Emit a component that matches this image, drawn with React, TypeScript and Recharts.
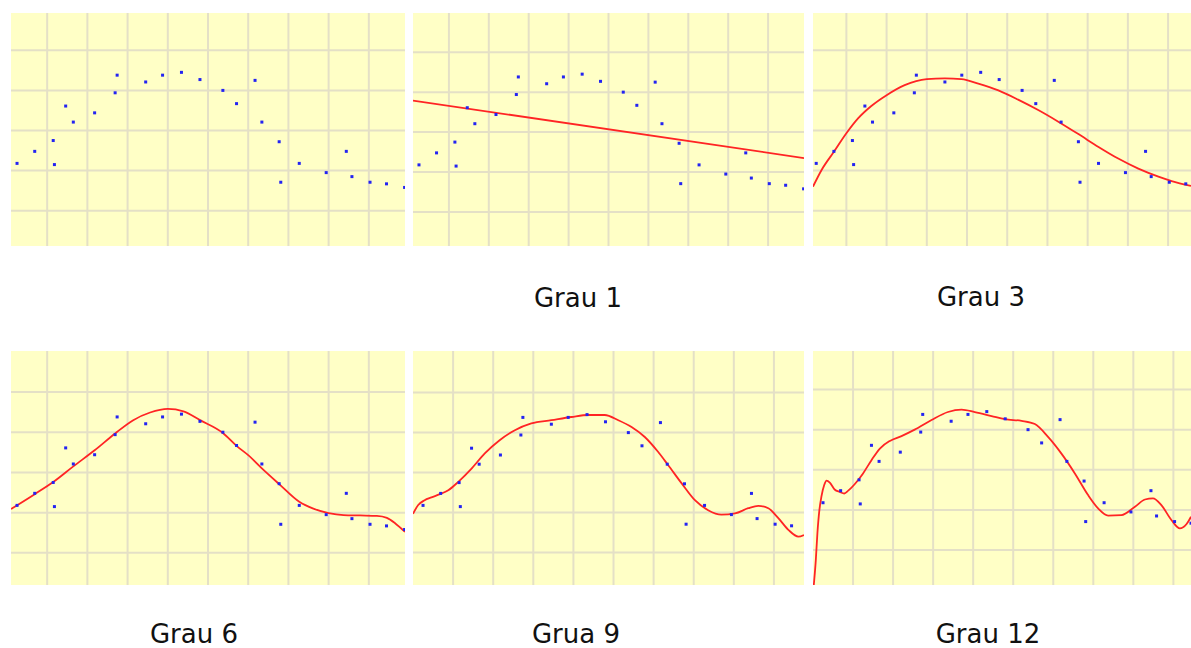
import React from 'react';
import { ComposedChart, XAxis, YAxis, CartesianGrid, Scatter, Line } from 'recharts';

// sample points, identical in every panel
const pointX = [0.25, 0.69, 1.15, 1.18, 1.46, 1.65, 2.18, 2.69, 2.74, 3.45, 3.87, 4.34, 4.80,
  5.37, 5.71, 6.17, 6.34, 6.77, 6.81, 7.27, 7.94, 8.44, 8.58, 9.03, 9.44, 9.89];
const pointY = [2.18, 2.48, 2.75, 2.15, 3.61, 3.21, 3.44, 3.94, 4.38, 4.21, 4.38, 4.45, 4.27,
  4.00, 3.67, 4.25, 3.21, 2.72, 1.71, 2.18, 1.95, 2.48, 1.85, 1.71, 1.67, 1.58];

// fitted curves as [x, y]
const grau1 = [[0.10, 3.79], [9.90, 2.35]];
const grau3 = [[0.17, 1.60], [0.38, 2.01], [0.69, 2.47], [1.0, 2.93], [1.29, 3.30], [1.62, 3.61],
  [2.0, 3.88], [2.45, 4.13], [3.0, 4.28], [3.45, 4.30], [3.86, 4.28], [4.28, 4.17], [4.78, 4.00],
  [5.27, 3.77], [5.77, 3.51], [6.27, 3.22], [6.77, 2.91], [7.27, 2.59], [7.76, 2.30], [8.26, 2.05],
  [8.76, 1.85], [9.09, 1.74], [9.57, 1.62]];
const grau6 = [[0.10, 2.09], [0.69, 2.46], [1.15, 2.76], [1.65, 3.15], [2.18, 3.55], [2.69, 3.97],
  [3.14, 4.30], [3.56, 4.49], [4.0, 4.58], [4.39, 4.52], [4.80, 4.30], [5.37, 3.98], [5.71, 3.66],
  [6.0, 3.43], [6.34, 3.10], [6.77, 2.71], [7.27, 2.27], [7.62, 2.10], [8.0, 1.99], [8.37, 1.94],
  [8.78, 1.93], [9.20, 1.92], [9.45, 1.87], [9.66, 1.73], [9.90, 1.52]];
const grau9 = [[0.0, 1.97], [0.13, 2.19], [0.29, 2.31], [0.46, 2.38], [0.67, 2.46], [0.88, 2.56],
  [1.13, 2.77], [1.46, 3.10], [1.79, 3.48], [2.16, 3.81], [2.54, 4.06], [2.95, 4.23], [3.45, 4.31],
  [3.95, 4.39], [4.37, 4.44], [4.78, 4.44], [5.12, 4.31], [5.45, 4.14], [5.78, 3.89], [6.11, 3.52],
  [6.36, 3.19], [6.70, 2.73], [7.03, 2.31], [7.36, 2.06], [7.69, 1.95], [8.03, 1.98], [8.36, 2.11],
  [8.61, 2.17], [8.86, 2.11], [9.11, 1.86], [9.36, 1.57], [9.61, 1.40], [9.75, 1.44]];
const grau12 = [[0.0, -0.10], [0.02, 0.13], [0.07, 0.75], [0.11, 1.42], [0.16, 2.00], [0.21, 2.33],
  [0.28, 2.62], [0.34, 2.73], [0.42, 2.68], [0.54, 2.51], [0.67, 2.45], [0.78, 2.41], [0.88, 2.48],
  [1.04, 2.64], [1.25, 2.91], [1.46, 3.24], [1.67, 3.53], [1.92, 3.72], [2.21, 3.84], [2.54, 4.00],
  [2.96, 4.24], [3.37, 4.44], [3.71, 4.50], [4.04, 4.44], [4.46, 4.34], [4.79, 4.26], [5.21, 4.22],
  [5.54, 4.14], [5.87, 3.82], [6.20, 3.41], [6.54, 2.91], [6.87, 2.37], [7.12, 2.04], [7.37, 1.86],
  [7.70, 1.87], [8.04, 2.08], [8.29, 2.26], [8.49, 2.29], [8.70, 2.12], [8.95, 1.75], [9.16, 1.54],
  [9.33, 1.65], [9.44, 1.83]];

const xTicks = [1, 2, 3, 4, 5, 6, 7, 8, 9];
const yTicks = [1, 2, 3, 4, 5];

const points = pointX.map((x, i) => ({ x, y: pointY[i] }));
const toRows = (pairs: number[][]) => pairs.map(([x, y]) => ({ x, y }));

const COLORS = {
  paper: '#ffffc6',
  grid: '#e4e0c6',
  dot: '#2323f2',
  curve: '#ff2424',
  text: '#111111',
};

const Dot = (props: any) => (
  <rect x={props.cx - 1.5} y={props.cy - 1.5} width={3} height={3} fill={COLORS.dot} />
);

interface PanelProps {
  left: number;
  top: number;
  width: number;
  height: number;
  xDomain: [number, number];
  yDomain: [number, number];
  curve?: number[][];
}

function Panel({ left, top, width, height, xDomain, yDomain, curve }: PanelProps) {
  return (
    <div style={{ position: 'absolute', left, top }}>
      <ComposedChart width={width} height={height} margin={{ top: 0, right: 0, bottom: 0, left: 0 }}>
        <CartesianGrid stroke={COLORS.grid} strokeWidth={2} fill={COLORS.paper} fillOpacity={1} syncWithTicks />
        <XAxis type="number" dataKey="x" domain={xDomain} ticks={xTicks} allowDataOverflow hide />
        <YAxis type="number" dataKey="y" domain={yDomain} ticks={yTicks} allowDataOverflow hide />
        {curve && (
          <Line
            data={toRows(curve)}
            dataKey="y"
            type="monotone"
            stroke={COLORS.curve}
            strokeWidth={1.8}
            dot={false}
            activeDot={false}
            isAnimationActive={false}
          />
        )}
        <Scatter data={points} dataKey="y" shape={Dot} isAnimationActive={false} />
      </ComposedChart>
    </div>
  );
}

const labels = [
  { text: 'Grau 1', x: 578, y: 307 },
  { text: 'Grau 3', x: 981, y: 306 },
  { text: 'Grau 6', x: 194, y: 643 },
  { text: 'Grua 9', x: 576, y: 643 },
  { text: 'Grau 12', x: 988, y: 643 },
];

export default function App() {
  return (
    <div style={{ position: 'absolute', left: 0, top: 0, width: 1191, height: 648, background: '#fff', overflow: 'hidden' }}>
      <Panel left={11} top={13} width={394} height={233} xDomain={[0.10, 9.90]} yDomain={[0.12, 5.93]} />
      <Panel left={413} top={13} width={391} height={233} xDomain={[0.10, 9.90]} yDomain={[0.15, 5.98]} curve={grau1} />
      <Panel left={813} top={13} width={378} height={233} xDomain={[0.17, 9.57]} yDomain={[0.12, 5.93]} curve={grau3} />
      <Panel left={11} top={351} width={394} height={234} xDomain={[0.10, 9.90]} yDomain={[0.20, 6.02]} curve={grau6} />
      <Panel left={413} top={351} width={391} height={234} xDomain={[0.0, 9.75]} yDomain={[0.19, 6.04]} curve={grau9} />
      <Panel left={813} top={351} width={378} height={234} xDomain={[0.0, 9.44]} yDomain={[0.13, 5.96]} curve={grau12} />
      <svg width={1191} height={648} style={{ position: 'absolute', left: 0, top: 0, pointerEvents: 'none' }}>
        {labels.map((l) => (
          <text key={l.text} x={l.x} y={l.y} textAnchor="middle" fontFamily="DejaVu Sans" fontSize={26} fill={COLORS.text}>
            {l.text}
          </text>
        ))}
      </svg>
    </div>
  );
}
